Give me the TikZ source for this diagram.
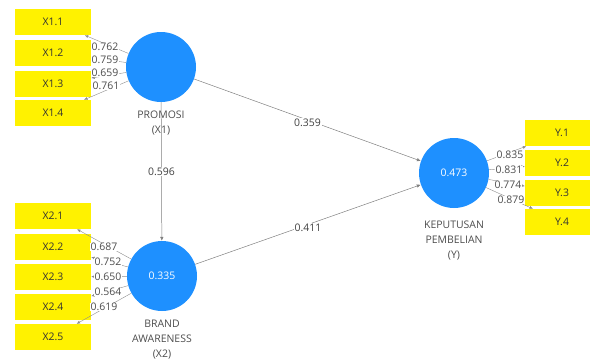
\documentclass[tikz,border=0pt]{standalone}
\usepackage{fontspec}
\setmainfont{Open Sans}
\usetikzlibrary{arrows.meta}
\definecolor{plsblue}{RGB}{30,144,255}
\definecolor{plsyellow}{RGB}{255,242,0}

\begin{document}
\begin{tikzpicture}[x=1bp, y=-1bp,
  font=\fontsize{10.5}{12}\selectfont,
  ind/.style={fill=plsyellow, minimum width=76bp, minimum height=26bp, inner sep=0pt, text=black!80},
  lv/.style={circle, fill=plsblue, minimum size=70bp, inner sep=0pt, text=white},
  lvname/.style={anchor=north, align=center, text=black!70, font=\fontsize{10.5}{15.5}\selectfont},
  load/.style={draw=black!45, line width=0.4pt, -{Latex[length=3.5bp,width=3bp]}},
  inner/.style={draw=black!50, line width=0.5pt, -{Latex[length=4bp,width=3.5bp]}},
  coef/.style={fill=white, inner sep=1bp, text=black!75},
  ldval/.style={inner sep=0.3bp, fill=white, text=black!70}]
  \useasboundingbox (0,0) rectangle (590,360);

  % latent variables
  \node[lv] (prom) at (161,67) {};
  \node[lv] (brand) at (162,276) {0.335};
  \node[lv] (kep) at (454,173) {0.473};

  \node[lvname] (promname) at (161,107) {PROMOSI\\(X1)};
  \node[lvname] (brandname) at (162,316) {BRAND\\AWARENESS\\(X2)};
  \node[lvname] (kepname) at (454,217) {KEPUTUSAN\\PEMBELIAN\\(Y)};

  % indicators
  \node[ind] (x11) at (53,22) {X1.1};
  \node[ind] (x12) at (53,53) {X1.2};
  \node[ind] (x13) at (53,84) {X1.3};
  \node[ind] (x14) at (53,113) {X1.4};

  \node[ind] (x21) at (53,216) {X2.1};
  \node[ind] (x22) at (53,247) {X2.2};
  \node[ind] (x23) at (53,277) {X2.3};
  \node[ind] (x24) at (53,307) {X2.4};
  \node[ind] (x25) at (53,337) {X2.5};

  \node[ind, minimum width=74bp] (y1) at (562,133) {Y.1};
  \node[ind, minimum width=74bp] (y2) at (562,163) {Y.2};
  \node[ind, minimum width=74bp] (y3) at (562,193) {Y.3};
  \node[ind, minimum width=74bp] (y4) at (562,222) {Y.4};

  % outer model
  \foreach \i in {1,...,4} \draw[load] (prom) -- (x1\i);
  \foreach \i in {1,...,5} \draw[load] (brand) -- (x2\i);
  \foreach \i in {1,...,4} \draw[load] (kep) -- (y\i);

  \node[ldval] (l11) at (105,47) {0.762};
  \node[ldval] (l12) at (105,60) {0.759};
  \node[ldval] (l13) at (105,73) {0.659};
  \node[ldval] (l14) at (106,86) {0.761};

  \node[ldval] (l21) at (104,247) {0.687};
  \node[ldval] (l22) at (108,262) {0.752};
  \node[ldval] (l23) at (108,277) {0.650};
  \node[ldval] (l24) at (108,292) {0.564};
  \node[ldval] (l25) at (104,307) {0.619};

  \node[ldval] (l31) at (510,155) {0.835};
  \node[ldval] (l32) at (509,170) {0.831};
  \node[ldval] (l33) at (508,185) {0.774};
  \node[ldval] (l34) at (511,200) {0.879};

  % inner model
  \draw[inner] (prom) -- node[coef] (c1) {0.596} (brand);
  \draw[inner] (prom) -- node[coef, yshift=-3bp] (c2) {0.359} (kep);
  \draw[inner] (brand) -- node[coef, yshift=-3bp] (c3) {0.411} (kep);
\end{tikzpicture}
\end{document}
